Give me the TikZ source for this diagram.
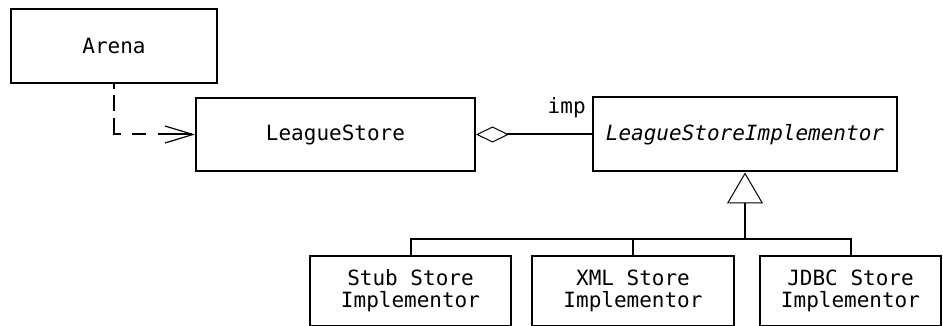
\documentclass[tikz,border=0pt]{standalone}
\usepackage{fontspec}
\setmonofont{DejaVu Sans Mono}
\usepackage{tikz}
\usetikzlibrary{calc,positioning,arrows.meta}
\tikzset{
  umlclass/.style={draw,line width=2pt,minimum height=73pt,align=center,
    inner sep=2pt,font=\ttfamily\fontsize{21}{22}\selectfont},
  umlimpl/.style={umlclass,minimum height=70pt},
  umlline/.style={line width=2pt}
}

\begin{document}
\begin{tikzpicture}[x=1pt,y=-1pt]
      \useasboundingbox (0,0) rectangle (943,326);
      \node[umlclass,minimum width=206pt,minimum height=74pt] (arena) at (114,46) {Arena};
      \node[umlclass,minimum width=279pt] (store) at (335.5,134.5) {LeagueStore};
      \node[umlclass,minimum width=304pt,minimum height=74pt,
            font=\ttfamily\itshape\fontsize{21}{22}\selectfont] (impl) at (745,134.5)
            {LeagueStoreImplementor};
      \node[umlimpl,minimum width=201pt] (stub) at (410.5,290.5) {Stub Store\\Implementor};
      \node[umlimpl,minimum width=202pt] (xml)  at (633,290.5)   {XML Store\\Implementor};
      \node[umlimpl,minimum width=181pt] (jdbc) at (850.5,291)   {JDBC Store\\Implementor};
      \coordinate (fork) at (745,239);
      % dependency
      \draw[umlline,dash pattern=on 5pt off 6pt on 16pt off 7pt on 23pt off 11pt
            on 14pt off 12pt on 60pt off 1pt,
            -{Straight Barb[length=28pt,width=17pt,line width=1.2pt]}]
            (arena.south) |- (store.west);
      % aggregation
      \draw[umlline,{Diamond[open,length=33pt,width=16pt,line width=1pt]}-]
            (store.east) -- (impl.west)
            node[pos=1,anchor=base east,xshift=-2pt,yshift=21pt,
                 font=\ttfamily\fontsize{21}{22}\selectfont] (imp) {imp};
      % generalization
      \draw[umlline,-{Triangle[open,length=31pt,width=36pt,line width=1pt]}]
            (fork) -- (impl.south);
      \draw[umlline] (stub.north) |- (fork) -| (jdbc.north);
      \draw[umlline] (xml.north) -- (xml.north |- fork);
    \end{tikzpicture}
\end{document}
